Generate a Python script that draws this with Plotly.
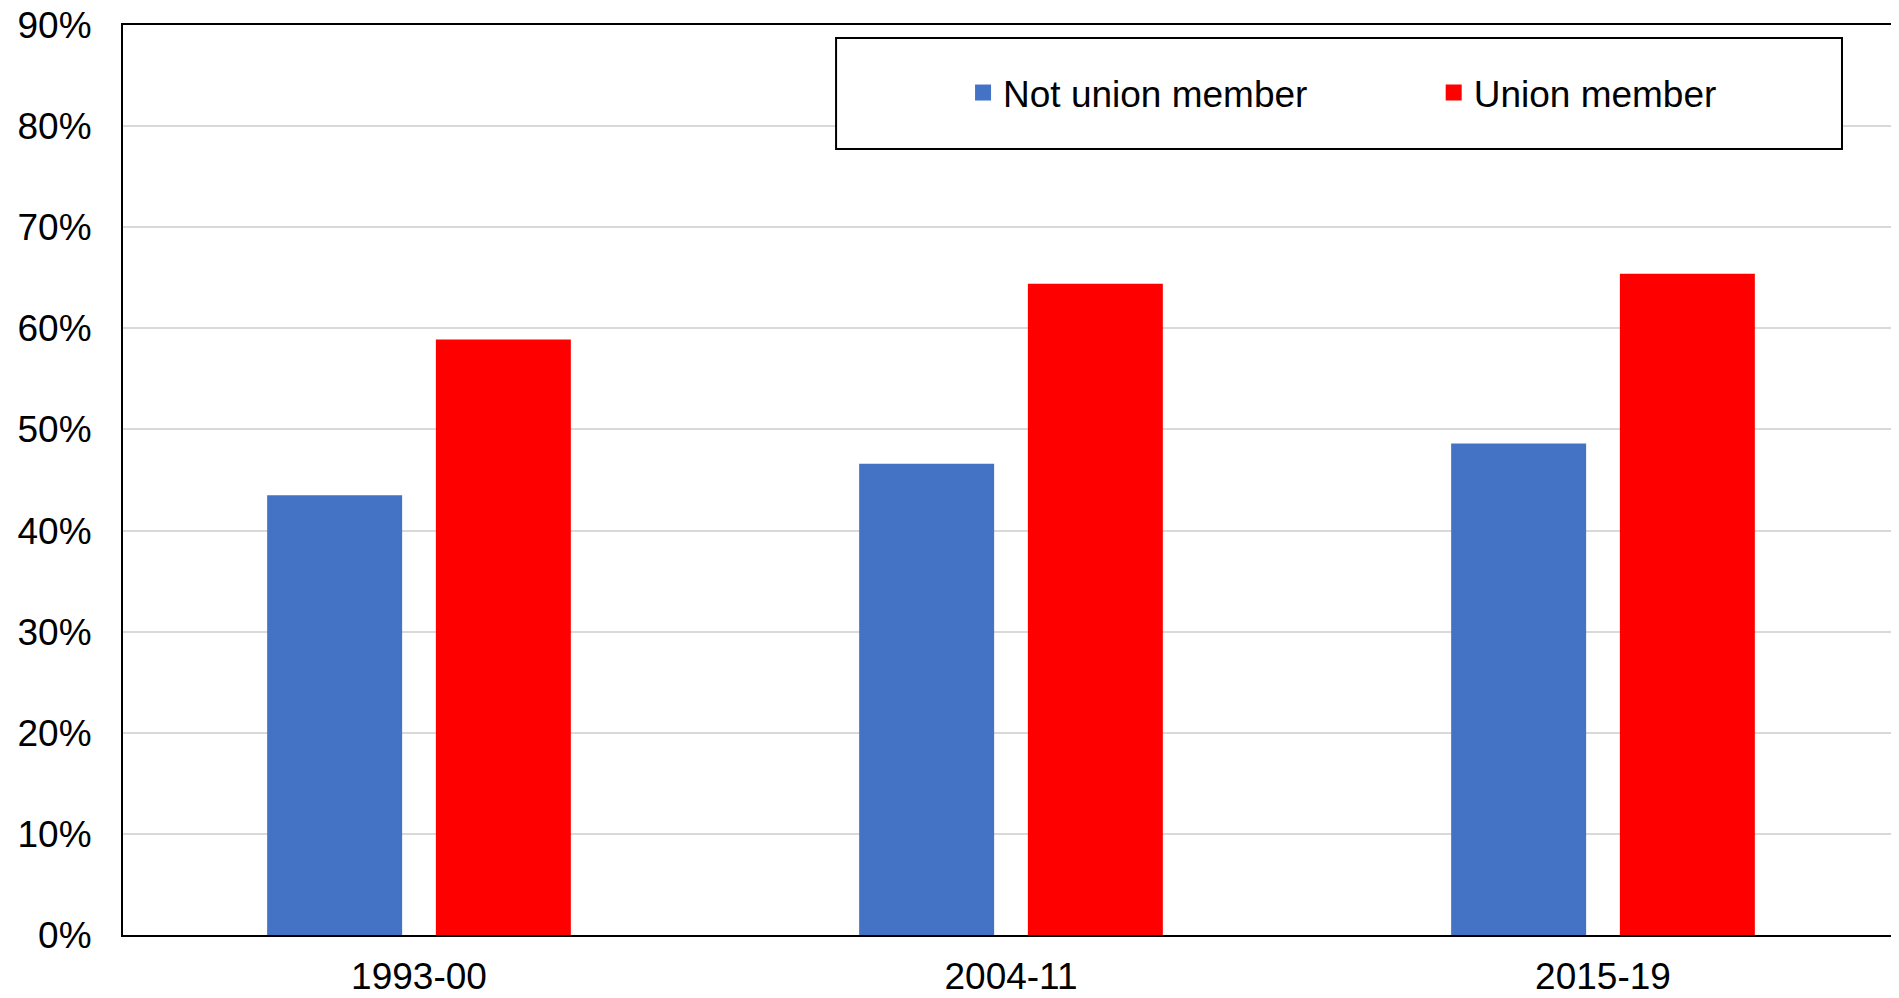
import plotly.graph_objects as go

# data
periods = ["1993-00", "2004-11", "2015-19"]
not_union = [0.435, 0.466, 0.486]
union = [0.589, 0.644, 0.654]
names = ["Not union member", "Union member"]
colors = ["#4472C4", "#FF0000"]

# page body keeps its 8px margin, so the figure is a bit smaller than the window
W, H = 1891, 982
font = "Liberation Sans, Arial, sans-serif"

fig = go.Figure()
for name, vals, col in zip(names, [not_union, union], colors):
    fig.add_trace(go.Bar(x=periods, y=vals, name=name, showlegend=False,
                         marker=dict(color=col, line_width=0)))
# legend entries with bigger square swatches, one legend per entry
for name, col, lg in zip(names, colors, ["legend", "legend2"]):
    fig.add_trace(go.Scatter(x=[None], y=[None], mode="markers", name=name,
                             legend=lg,
                             marker=dict(symbol="square", size=19, color=col)))

# legend frame (white box over the gridlines)
fig.add_shape(type="rect", xref="paper", yref="paper",
              x0=0.4015, x1=0.9679, y0=0.8637, y1=0.9857,
              fillcolor="white", line=dict(color="black", width=2), layer="above")

leg = dict(orientation="h", xanchor="left", y=0.9253, yanchor="middle",
           itemsizing="trace", bgcolor="rgba(0,0,0,0)",
           font=dict(size=37, family=font))

fig.update_layout(
    width=W, height=H,
    margin=dict(l=115, r=0, t=17, b=55),
    paper_bgcolor="white", plot_bgcolor="white",
    font=dict(family=font, size=37, color="black"),
    barmode="group", bargap=0.43, bargroupgap=0.2,
    legend=dict(leg, x=0.473),
    legend2=dict(leg, x=0.738),
    xaxis=dict(type="category", showline=True, linecolor="black", linewidth=2,
               mirror=True, showgrid=False, ticks="", ticklabelstandoff=8,
               ticklabeloverflow="allow", automargin=False),
    yaxis=dict(range=[0, 0.9], dtick=0.1, tickformat=".0%",
               showline=True, linecolor="black", linewidth=2,
               showgrid=True, gridcolor="#d9d9d9", gridwidth=2,
               zeroline=False, ticks="", ticklabelstandoff=22,
               ticklabeloverflow="allow", automargin=False),
)

fig.write_html("out.html")
